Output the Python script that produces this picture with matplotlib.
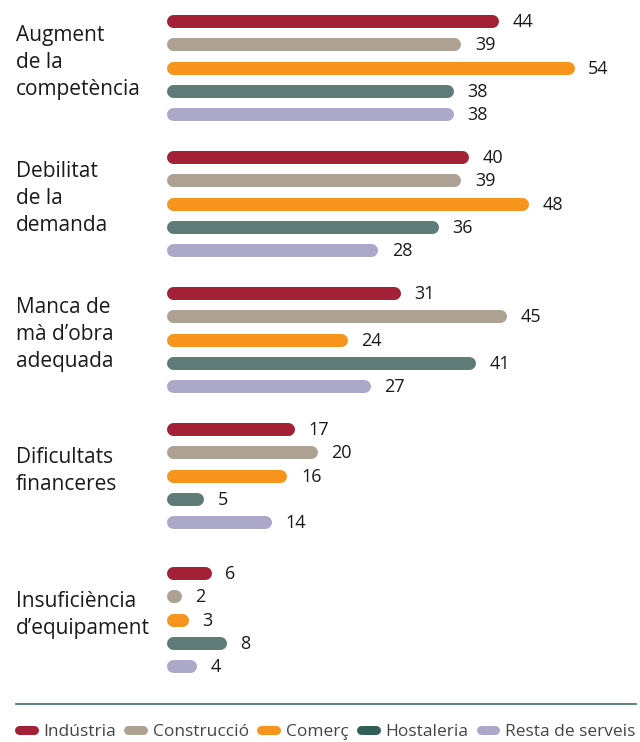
import matplotlib.pyplot as plt
from matplotlib.lines import Line2D

plt.rcParams['font.family'] = ['Open Sans', 'DejaVu Sans']

# obstacles and sector shares (%)
categories = ["Augment\nde la\ncompetència", "Debilitat\nde la\ndemanda",
              "Manca de\nmà d’obra\nadequada", "Dificultats\nfinanceres",
              "Insuficiència\nd’equipament"]
sectors = ["Indústria", "Construcció", "Comerç", "Hostaleria", "Resta de serveis"]
industria = [44, 40, 31, 17, 6]
construccio = [39, 39, 45, 20, 2]
comerc = [54, 48, 24, 16, 3]
hostaleria = [38, 36, 41, 5, 8]
resta = [38, 28, 27, 14, 4]

bar_colors = ["#a32136", "#ada194", "#f7941d", "#5f7c78", "#aba8c9"]
legend_colors = ["#a32136", "#ada194", "#f7941d", "#2f5f57", "#aba8c9"]

W, H = 640, 742
x0 = 166
scale = 7.56          # px per unit
bar_px = 13
fig = plt.figure(figsize=(W / 100, H / 100), dpi=100)
ax = fig.add_axes([x0 / W, 0, 1 - x0 / W, 1])
ax.set_xlim(0, (W - x0) / scale)
ax.set_ylim(H, 0)
ax.axis("off")

r = bar_px / 2 / scale
lw = bar_px * 72 / 100
series = [industria, construccio, comerc, hostaleria, resta]
group_top = [21, 157, 293, 429, 573]
step = 23.3

for g, cat in enumerate(categories):
    for s, vals in enumerate(series):
        v = vals[g]
        y = group_top[g] + s * step
        ax.plot([r, max(v - r, r + 0.01)], [y, y], color=bar_colors[s], lw=lw,
                solid_capstyle="round")
        ax.text(v + 14 / scale, y + 1, str(v), ha="left", va="center",
                fontsize=13, color="#1a1a1a")
    yc = group_top[g] + 2 * step - 5
    fig.text(16 / W, 1 - yc / H, cat, ha="left", va="center", fontsize=15,
             color="#1a1a1a", linespacing=1.38)

# separator above legend
fig.add_artist(Line2D([16 / W, 636 / W], [1 - 704 / H, 1 - 704 / H],
                      color="#3e6e68", lw=1.2))

handles = [Line2D([0], [0], color=c, lw=6.5, solid_capstyle="round")
           for c in legend_colors]
fig.legend(handles, sectors, loc="center", bbox_to_anchor=(0.511, 1 - 732 / H),
           ncol=5, frameon=False, handlelength=0.85, handletextpad=0.55,
           columnspacing=0.72, prop={"size": 12.5},
           labelcolor="#444444")

fig.savefig("out.png", dpi=100)
